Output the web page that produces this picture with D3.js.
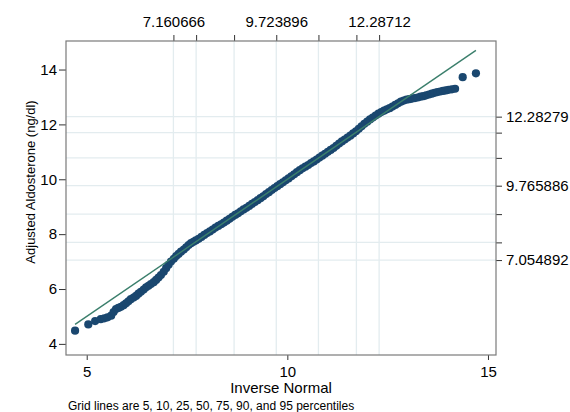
<!DOCTYPE html>
<html><head><meta charset="utf-8">
<script src="https://cdn.jsdelivr.net/npm/d3@7"></script>
<style>
body{margin:0;background:#fff;}
text{font-family:"Liberation Sans",Arial,sans-serif;fill:#000;}
</style></head>
<body><svg id="c" width="570" height="412"></svg>
<script>
// Inverse normal (x) and adjusted aldosterone (y) for the quantile-normal plot
const qqX = [4.71,5.04,5.21,5.35,5.44,5.52,5.61,5.67,5.73,5.79,5.855,5.92,5.98,6.04,6.10,6.17,6.23,6.29,6.35,6.42,6.48,6.54,6.60,6.67,6.73,6.79,6.85,6.92,6.98,7.04,7.10,7.17,7.23,7.29,7.35,7.42,7.48,7.54,7.60,7.66,7.72,
7.79,7.86,7.93,8.00,8.07,8.14,8.21,8.28,8.35,8.42,8.49,8.56,8.63,8.70,8.77,8.84,8.91,8.98,9.05,9.12,9.19,9.26,9.33,9.40,9.47,9.54,9.61,9.68,9.75,9.82,9.89,9.96,10.03,10.10,10.17,10.24,10.31,10.38,10.45,10.52,10.59,10.66,10.73,10.80,10.87,10.94,11.01,11.08,11.15,11.22,11.29,11.36,11.43,11.50,11.57,11.64,11.71,11.78,11.85,11.92,11.99,12.06,12.13,12.20,12.27,12.34,12.41,12.48,12.55,12.62,12.69,12.76,12.83,12.90,12.97,13.04,13.11,13.18,13.25,13.32,13.39,13.46,13.53,13.60,13.67,13.74,13.81,13.88,13.95,14.02,14.10,14.18,14.37,14.70];
const qqY = [4.48,4.71,4.83,4.90,4.93,4.97,5.03,5.16,5.27,5.31,5.35,5.41,5.48,5.55,5.63,5.69,5.75,5.83,5.90,5.98,6.06,6.12,6.18,6.25,6.33,6.42,6.51,6.63,6.76,6.88,7.00,7.10,7.20,7.28,7.36,7.44,7.52,7.60,7.67,7.72,7.77,
7.83,7.90,7.97,8.04,8.10,8.17,8.24,8.30,8.36,8.42,8.49,8.56,8.63,8.70,8.76,8.83,8.90,8.96,9.03,9.10,9.17,9.24,9.31,9.38,9.46,9.53,9.61,9.68,9.75,9.82,9.89,9.96,10.03,10.11,10.18,10.26,10.33,10.40,10.46,10.52,10.59,10.65,10.72,10.79,10.86,10.93,11.00,11.07,11.14,11.22,11.30,11.38,11.45,11.52,11.59,11.67,11.75,11.84,11.93,12.02,12.10,12.18,12.25,12.32,12.39,12.45,12.50,12.55,12.59,12.65,12.71,12.77,12.83,12.87,12.90,12.92,12.94,12.96,12.98,13.01,13.03,13.06,13.09,13.12,13.15,13.18,13.20,13.22,13.24,13.26,13.28,13.30,13.72,13.86];

const xTicks = [5, 10, 15];
const yTicks = [4, 6, 8, 10, 12, 14];
// Normal percentiles (top axis / vertical grid) : 5,10,25,50,75,90,95
const xPctl = [7.160666, 7.72679, 8.67282, 9.723896, 10.77498, 11.72101, 12.28712];
const xPctlLabels = ["7.160666", "", "", "9.723896", "", "", "12.28712"];
// Data percentiles (right axis / horizontal grid)
const yPctl = [7.054892, 7.70, 8.73, 9.765886, 10.78, 11.70, 12.28279];
const yPctlLabels = ["7.054892", "", "", "9.765886", "", "", "12.28279"];

const xTitle = "Inverse Normal";
const yTitle = "Adjusted Aldosterone (ng/dl)";
const note = "Grid lines are 5, 10, 25, 50, 75, 90, and 95 percentiles";

(function () {
const L = 66, R = 496, T = 41, B = 355;
const x = d3.scaleLinear().domain([4.484, 15.20]).range([L, R]);
const y = d3.scaleLinear().domain([3.595, 15.04]).range([B, T]);

const svg = d3.select("#c");
const gridColor = "#e3ecef";

// grid
svg.append("g").selectAll("line").data(xPctl).join("line")
  .attr("x1", d => x(d)).attr("x2", d => x(d)).attr("y1", T).attr("y2", B)
  .attr("stroke", gridColor).attr("stroke-width", 1.3);
svg.append("g").selectAll("line").data(yPctl).join("line")
  .attr("y1", d => y(d)).attr("y2", d => y(d)).attr("x1", L).attr("x2", R)
  .attr("stroke", gridColor).attr("stroke-width", 1.3);

// points
const pts = qqX.map((v, i) => [v, qqY[i]]);
svg.append("g").selectAll("circle").data(pts).join("circle")
  .attr("cx", d => x(d[0])).attr("cy", d => y(d[1])).attr("r", 4.1)
  .attr("fill", "#1a476f");

// reference line y = x
const lo = d3.min(qqX), hi = d3.max(qqX);
svg.append("line").attr("x1", x(lo)).attr("y1", y(lo)).attr("x2", x(hi)).attr("y2", y(hi))
  .attr("stroke", "#3b7f6c").attr("stroke-width", 1.4);

// axes
const fs = "15px";
const axB = svg.append("g").attr("transform", `translate(0,${B})`)
  .call(d3.axisBottom(x).tickValues(xTicks).tickSize(5).tickPadding(6).tickFormat(d3.format("d")));
const axL = svg.append("g").attr("transform", `translate(${L},0)`)
  .call(d3.axisLeft(y).tickValues(yTicks).tickSize(7).tickPadding(2).tickFormat(d3.format("d")));
const axT = svg.append("g").attr("transform", `translate(0,${T})`)
  .call(d3.axisTop(x).tickValues(xPctl).tickSize(6).tickPadding(8).tickFormat((d, i) => xPctlLabels[i]));
const axR = svg.append("g").attr("transform", `translate(${R},0)`)
  .call(d3.axisRight(y).tickValues(yPctl).tickSize(6).tickPadding(4).tickFormat((d, i) => yPctlLabels[i]));

[axB, axL, axT, axR].forEach(g => {
  g.select(".domain").remove();
  g.selectAll(".tick line").attr("stroke", "#333").attr("stroke-width", 1);
  g.selectAll(".tick text").attr("font-size", fs).attr("fill", "#000")
    .style("font-family", "'Liberation Sans',Arial,sans-serif");
});

// frame
svg.append("rect").attr("x", L).attr("y", T).attr("width", R - L).attr("height", B - T)
  .attr("fill", "none").attr("stroke", "#7a7a7a").attr("stroke-width", 1.2);

// titles
svg.append("text").attr("x", (L + R) / 2).attr("y", 392.5).attr("text-anchor", "middle")
  .attr("font-size", "15px").text(xTitle);
svg.append("text").attr("transform", "translate(35,182) rotate(-90)").attr("text-anchor", "middle")
  .attr("font-size", "13px").text(yTitle);
svg.append("text").attr("x", 68).attr("y", 410).attr("font-size", "12px").attr("fill", "#222").text(note);
})();
</script></body></html>
